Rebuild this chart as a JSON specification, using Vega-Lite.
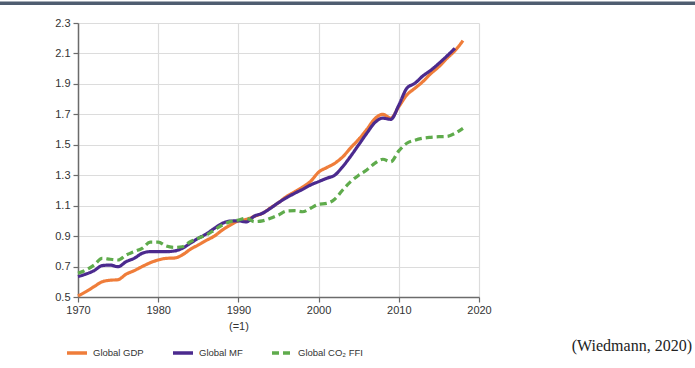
{
  "$schema": "https://vega.github.io/schema/vega-lite/v6.json",
  "width": 401,
  "height": 274,
  "autosize": {"type": "none"},
  "padding": {"left": 78, "top": 23, "right": 216, "bottom": 71},
  "background": "white",
  "config": {
    "view": {"stroke": null},
    "font": "Liberation Sans",
    "axis": {"labelFont": "Liberation Sans", "labelColor": "#333", "labelFontSize": 11, "labelOverlap": false, "labelFlush": false, "labelBound": false, "domainColor": "#6b6b6b", "domainWidth": 1.5, "tickColor": "#6b6b6b", "tickWidth": 1.2, "gridColor": "#dcdcdc", "gridWidth": 1.2, "title": null}
  },
  "title": {"text": "(Wiedmann, 2020)", "orient": "bottom", "anchor": "end", "frame": "group", "font": "Liberation Serif", "fontSize": 16, "fontWeight": "normal", "color": "#222", "dx": 213, "dy": -26},
  "datasets": {
    "series": [
      {"year": 1970, "series": "Global GDP", "value": 0.507},
      {"year": 1971, "series": "Global GDP", "value": 0.535},
      {"year": 1972, "series": "Global GDP", "value": 0.568},
      {"year": 1973, "series": "Global GDP", "value": 0.6},
      {"year": 1974, "series": "Global GDP", "value": 0.61},
      {"year": 1975, "series": "Global GDP", "value": 0.614},
      {"year": 1976, "series": "Global GDP", "value": 0.65},
      {"year": 1977, "series": "Global GDP", "value": 0.673},
      {"year": 1978, "series": "Global GDP", "value": 0.7},
      {"year": 1979, "series": "Global GDP", "value": 0.725},
      {"year": 1980, "series": "Global GDP", "value": 0.743},
      {"year": 1981, "series": "Global GDP", "value": 0.754},
      {"year": 1982, "series": "Global GDP", "value": 0.756},
      {"year": 1983, "series": "Global GDP", "value": 0.776},
      {"year": 1984, "series": "Global GDP", "value": 0.813},
      {"year": 1985, "series": "Global GDP", "value": 0.842},
      {"year": 1986, "series": "Global GDP", "value": 0.872},
      {"year": 1987, "series": "Global GDP", "value": 0.9},
      {"year": 1988, "series": "Global GDP", "value": 0.94},
      {"year": 1989, "series": "Global GDP", "value": 0.973},
      {"year": 1990, "series": "Global GDP", "value": 1.0},
      {"year": 1991, "series": "Global GDP", "value": 1.01},
      {"year": 1992, "series": "Global GDP", "value": 1.03},
      {"year": 1993, "series": "Global GDP", "value": 1.05},
      {"year": 1994, "series": "Global GDP", "value": 1.085},
      {"year": 1995, "series": "Global GDP", "value": 1.12},
      {"year": 1996, "series": "Global GDP", "value": 1.16},
      {"year": 1997, "series": "Global GDP", "value": 1.19},
      {"year": 1998, "series": "Global GDP", "value": 1.222},
      {"year": 1999, "series": "Global GDP", "value": 1.26},
      {"year": 2000, "series": "Global GDP", "value": 1.32},
      {"year": 2001, "series": "Global GDP", "value": 1.35},
      {"year": 2002, "series": "Global GDP", "value": 1.378},
      {"year": 2003, "series": "Global GDP", "value": 1.42},
      {"year": 2004, "series": "Global GDP", "value": 1.48},
      {"year": 2005, "series": "Global GDP", "value": 1.536},
      {"year": 2006, "series": "Global GDP", "value": 1.6},
      {"year": 2007, "series": "Global GDP", "value": 1.67},
      {"year": 2008, "series": "Global GDP", "value": 1.7},
      {"year": 2009, "series": "Global GDP", "value": 1.675},
      {"year": 2010, "series": "Global GDP", "value": 1.75},
      {"year": 2011, "series": "Global GDP", "value": 1.827},
      {"year": 2012, "series": "Global GDP", "value": 1.871},
      {"year": 2013, "series": "Global GDP", "value": 1.915},
      {"year": 2014, "series": "Global GDP", "value": 1.968},
      {"year": 2015, "series": "Global GDP", "value": 2.013},
      {"year": 2016, "series": "Global GDP", "value": 2.068},
      {"year": 2017, "series": "Global GDP", "value": 2.118},
      {"year": 2018, "series": "Global GDP", "value": 2.184},
      {"year": 1970, "series": "Global MF", "value": 0.634},
      {"year": 1971, "series": "Global MF", "value": 0.651},
      {"year": 1972, "series": "Global MF", "value": 0.673},
      {"year": 1973, "series": "Global MF", "value": 0.706},
      {"year": 1974, "series": "Global MF", "value": 0.71},
      {"year": 1975, "series": "Global MF", "value": 0.699},
      {"year": 1976, "series": "Global MF", "value": 0.732},
      {"year": 1977, "series": "Global MF", "value": 0.754},
      {"year": 1978, "series": "Global MF", "value": 0.787},
      {"year": 1979, "series": "Global MF", "value": 0.798},
      {"year": 1980, "series": "Global MF", "value": 0.798},
      {"year": 1981, "series": "Global MF", "value": 0.798},
      {"year": 1982, "series": "Global MF", "value": 0.802},
      {"year": 1983, "series": "Global MF", "value": 0.82},
      {"year": 1984, "series": "Global MF", "value": 0.853},
      {"year": 1985, "series": "Global MF", "value": 0.886},
      {"year": 1986, "series": "Global MF", "value": 0.914},
      {"year": 1987, "series": "Global MF", "value": 0.951},
      {"year": 1988, "series": "Global MF", "value": 0.984},
      {"year": 1989, "series": "Global MF", "value": 0.999},
      {"year": 1990, "series": "Global MF", "value": 1.0},
      {"year": 1991, "series": "Global MF", "value": 0.993},
      {"year": 1992, "series": "Global MF", "value": 1.032},
      {"year": 1993, "series": "Global MF", "value": 1.05},
      {"year": 1994, "series": "Global MF", "value": 1.083},
      {"year": 1995, "series": "Global MF", "value": 1.12},
      {"year": 1996, "series": "Global MF", "value": 1.152},
      {"year": 1997, "series": "Global MF", "value": 1.181},
      {"year": 1998, "series": "Global MF", "value": 1.207},
      {"year": 1999, "series": "Global MF", "value": 1.236},
      {"year": 2000, "series": "Global MF", "value": 1.258},
      {"year": 2001, "series": "Global MF", "value": 1.28},
      {"year": 2002, "series": "Global MF", "value": 1.3},
      {"year": 2003, "series": "Global MF", "value": 1.356},
      {"year": 2004, "series": "Global MF", "value": 1.425},
      {"year": 2005, "series": "Global MF", "value": 1.5},
      {"year": 2006, "series": "Global MF", "value": 1.575},
      {"year": 2007, "series": "Global MF", "value": 1.645},
      {"year": 2008, "series": "Global MF", "value": 1.675},
      {"year": 2009, "series": "Global MF", "value": 1.667},
      {"year": 2010, "series": "Global MF", "value": 1.76},
      {"year": 2011, "series": "Global MF", "value": 1.871},
      {"year": 2012, "series": "Global MF", "value": 1.904},
      {"year": 2013, "series": "Global MF", "value": 1.952},
      {"year": 2014, "series": "Global MF", "value": 1.99},
      {"year": 2015, "series": "Global MF", "value": 2.035},
      {"year": 2016, "series": "Global MF", "value": 2.083},
      {"year": 2017, "series": "Global MF", "value": 2.134},
      {"year": 1970, "series": "Global CO₂ FFI", "value": 0.656},
      {"year": 1971, "series": "Global CO₂ FFI", "value": 0.677},
      {"year": 1972, "series": "Global CO₂ FFI", "value": 0.71},
      {"year": 1973, "series": "Global CO₂ FFI", "value": 0.754},
      {"year": 1974, "series": "Global CO₂ FFI", "value": 0.748},
      {"year": 1975, "series": "Global CO₂ FFI", "value": 0.743},
      {"year": 1976, "series": "Global CO₂ FFI", "value": 0.776},
      {"year": 1977, "series": "Global CO₂ FFI", "value": 0.798},
      {"year": 1978, "series": "Global CO₂ FFI", "value": 0.82},
      {"year": 1979, "series": "Global CO₂ FFI", "value": 0.86},
      {"year": 1980, "series": "Global CO₂ FFI", "value": 0.86},
      {"year": 1981, "series": "Global CO₂ FFI", "value": 0.835},
      {"year": 1982, "series": "Global CO₂ FFI", "value": 0.826},
      {"year": 1983, "series": "Global CO₂ FFI", "value": 0.83},
      {"year": 1984, "series": "Global CO₂ FFI", "value": 0.863},
      {"year": 1985, "series": "Global CO₂ FFI", "value": 0.886},
      {"year": 1986, "series": "Global CO₂ FFI", "value": 0.907},
      {"year": 1987, "series": "Global CO₂ FFI", "value": 0.94},
      {"year": 1988, "series": "Global CO₂ FFI", "value": 0.973},
      {"year": 1989, "series": "Global CO₂ FFI", "value": 0.995},
      {"year": 1990, "series": "Global CO₂ FFI", "value": 1.006},
      {"year": 1991, "series": "Global CO₂ FFI", "value": 1.017},
      {"year": 1992, "series": "Global CO₂ FFI", "value": 0.995},
      {"year": 1993, "series": "Global CO₂ FFI", "value": 1.0},
      {"year": 1994, "series": "Global CO₂ FFI", "value": 1.017},
      {"year": 1995, "series": "Global CO₂ FFI", "value": 1.039},
      {"year": 1996, "series": "Global CO₂ FFI", "value": 1.065},
      {"year": 1997, "series": "Global CO₂ FFI", "value": 1.067},
      {"year": 1998, "series": "Global CO₂ FFI", "value": 1.06},
      {"year": 1999, "series": "Global CO₂ FFI", "value": 1.083},
      {"year": 2000, "series": "Global CO₂ FFI", "value": 1.109},
      {"year": 2001, "series": "Global CO₂ FFI", "value": 1.115},
      {"year": 2002, "series": "Global CO₂ FFI", "value": 1.142},
      {"year": 2003, "series": "Global CO₂ FFI", "value": 1.203},
      {"year": 2004, "series": "Global CO₂ FFI", "value": 1.258},
      {"year": 2005, "series": "Global CO₂ FFI", "value": 1.3},
      {"year": 2006, "series": "Global CO₂ FFI", "value": 1.334},
      {"year": 2007, "series": "Global CO₂ FFI", "value": 1.378},
      {"year": 2008, "series": "Global CO₂ FFI", "value": 1.405},
      {"year": 2009, "series": "Global CO₂ FFI", "value": 1.389},
      {"year": 2010, "series": "Global CO₂ FFI", "value": 1.46},
      {"year": 2011, "series": "Global CO₂ FFI", "value": 1.51},
      {"year": 2012, "series": "Global CO₂ FFI", "value": 1.53},
      {"year": 2013, "series": "Global CO₂ FFI", "value": 1.543},
      {"year": 2014, "series": "Global CO₂ FFI", "value": 1.549},
      {"year": 2015, "series": "Global CO₂ FFI", "value": 1.553},
      {"year": 2016, "series": "Global CO₂ FFI", "value": 1.555},
      {"year": 2017, "series": "Global CO₂ FFI", "value": 1.575},
      {"year": 2018, "series": "Global CO₂ FFI", "value": 1.608}
    ],
    "topRule": [{"x1": 1960.2, "x2": 2047.0, "y": 2.43}]
  },
  "layer": [
    {
      "data": {"name": "series"},
      "mark": {"type": "line", "interpolate": "monotone", "strokeWidth": 3.2, "strokeCap": "butt"},
      "encoding": {
        "x": {
          "field": "year", "type": "quantitative",
          "scale": {"domain": [1970, 2020], "nice": false, "zero": false},
          "axis": {"values": [1970, 1980, 1990, 2000, 2010, 2020], "format": "d", "tickSize": 5, "labelPadding": 2, "labelLineHeight": 16,
                   "labelExpr": "datum.value == 1990 ? ['1990', '(=1)'] : datum.label"}
        },
        "y": {
          "field": "value", "type": "quantitative",
          "scale": {"domain": [0.5, 2.3], "nice": false, "zero": false},
          "axis": {"values": [0.5, 0.7, 0.9, 1.1, 1.3, 1.5, 1.7, 1.9, 2.1, 2.3], "format": ".1f", "tickSize": 5, "labelPadding": 3}
        },
        "color": {
          "field": "series", "type": "nominal", "title": null,
          "sort": ["Global GDP", "Global MF", "Global CO₂ FFI"],
          "scale": {"domain": ["Global GDP", "Global MF", "Global CO₂ FFI"], "range": ["#ef7d3a", "#4b2a8e", "#5fab4c"]},
          "legend": {"orient": "none", "legendX": -13, "legendY": 318, "direction": "horizontal", "symbolType": "stroke", "symbolSize": 400, "symbolStrokeWidth": 3.5, "labelFontSize": 9.5, "labelColor": "#333", "columnPadding": 22, "labelOffset": 4}
        },
        "strokeDash": {
          "field": "series", "type": "nominal", "title": null,
          "sort": ["Global GDP", "Global MF", "Global CO₂ FFI"],
          "scale": {"domain": ["Global GDP", "Global MF", "Global CO₂ FFI"], "range": [[1, 0], [1, 0], [7, 4]]}
        }
      }
    },
    {
      "data": {"name": "topRule"},
      "mark": {"type": "rule", "color": "#4f5d70", "strokeWidth": 3.5, "clip": false},
      "encoding": {
        "x": {"field": "x1", "type": "quantitative", "scale": {"domain": [1970, 2020], "nice": false, "zero": false},
              "axis": {"values": [1970, 1980, 1990, 2000, 2010, 2020], "format": "d", "tickSize": 5, "labelPadding": 2, "labelLineHeight": 16,
                       "labelExpr": "datum.value == 1990 ? ['1990', '(=1)'] : datum.label"}},
        "x2": {"field": "x2"},
        "y": {"field": "y", "type": "quantitative", "scale": {"domain": [0.5, 2.3], "nice": false, "zero": false},
              "axis": {"values": [0.5, 0.7, 0.9, 1.1, 1.3, 1.5, 1.7, 1.9, 2.1, 2.3], "format": ".1f", "tickSize": 5, "labelPadding": 3}}
      }
    }
  ]
}
